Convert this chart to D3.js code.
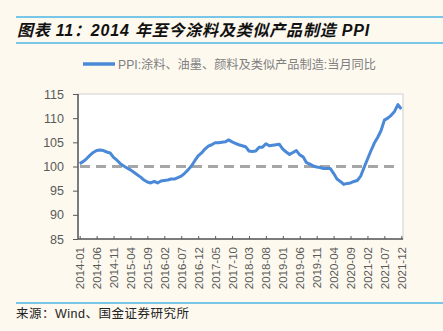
<!DOCTYPE html>
<html><head><meta charset="utf-8">
<script src="https://cdn.jsdelivr.net/npm/d3@7/dist/d3.min.js"></script>
<style>
html,body{margin:0;padding:0;background:#fdf9ef;}
svg{display:block;font-family:"Liberation Sans","Noto Sans CJK SC",sans-serif;}
</style></head><body>
<script>
const title = "图表 11：2014 年至今涂料及类似产品制造 PPI";
const seriesName = "PPI:涂料、油墨、颜料及类似产品制造:当月同比";
const source = "来源：Wind、国金证券研究所";
const startYear = 2014, startMonth = 1;
const values = [
100.6,101.0,101.6,102.3,102.9,103.3,103.4,103.3,103.0,102.8,101.9,101.3,
100.6,100.1,99.7,99.3,98.8,98.3,97.8,97.2,96.8,96.6,96.9,96.6,
97.0,97.1,97.2,97.4,97.4,97.7,98.0,98.6,99.3,100.1,101.2,102.2,
102.8,103.6,104.2,104.5,104.9,104.9,105.0,105.1,105.5,105.1,104.8,104.5,
104.3,104.1,103.2,103.1,103.2,104.0,104.0,104.7,104.3,104.4,104.5,104.6,
103.6,103.0,102.5,102.9,103.3,102.4,102.0,100.8,100.5,100.1,99.9,99.8,
99.6,99.6,99.6,98.6,97.4,96.9,96.3,96.5,96.6,96.9,97.1,98.0,
99.8,101.5,103.2,104.8,106.0,107.4,109.6,110.0,110.6,111.4,112.8,111.9];
const months = values.map((v,i)=>{const m=(startMonth-1+i)%12+1, y=startYear+Math.floor((startMonth-1+i)/12);return y+"-"+String(m).padStart(2,"0");});
const yTicks = [85,90,95,100,105,110,115];
const refValue = 100;

const W=443,H=331;
const svg=d3.select("body").append("svg").attr("width",W).attr("height",H);
const blue="#4db6e6";
// title
svg.append("line").attr("x1",16).attr("x2",W).attr("y1",17).attr("y2",17).attr("stroke",blue).attr("stroke-width",1.5);
svg.append("line").attr("x1",16).attr("x2",W).attr("y1",43).attr("y2",43).attr("stroke",blue).attr("stroke-width",1.5);
svg.append("text").attr("x",17).attr("y",36).attr("font-size",16).attr("font-weight","bold").attr("font-style","italic")
  .attr("letter-spacing",0.8).attr("fill","#111").text(title);

const m={l:78,r:403,t:94,b:239};
const x=d3.scalePoint().domain(months).range([m.l,m.r]).padding(0.5);
const y=d3.scaleLinear().domain([85,115]).range([m.b,m.t]);

svg.append("rect").attr("x",m.l).attr("y",m.t).attr("width",m.r-m.l).attr("height",m.b-m.t).attr("fill","#fff").attr("stroke","#d0d0d0").attr("stroke-width",1);

// legend
svg.append("line").attr("x1",83).attr("x2",115).attr("y1",64).attr("y2",64).attr("stroke","#4a89d8").attr("stroke-width",3.5);
svg.append("text").attr("x",118).attr("y",68.5).attr("font-size",12.2).attr("fill","#7f7f7f").text(seriesName);

// y axis
const ya=svg.append("g").attr("transform",`translate(${m.l},0)`).call(d3.axisLeft(y).tickValues(yTicks).tickSize(5).tickPadding(9));
ya.select(".domain").attr("stroke","#595959").attr("stroke-width",1.5).attr("d",`M0,${m.t}V${m.b}`);
ya.selectAll(".tick line").attr("stroke","#595959");
ya.selectAll(".tick text").attr("font-size",12.5).attr("fill","#595959").attr("font-family","Liberation Sans");

// x axis
const tickMonths=months.filter((d,i)=>i%5===0);
const xa=svg.append("g").attr("transform",`translate(0,${m.b})`).call(d3.axisBottom(x).tickValues(tickMonths).tickSize(-3).tickPadding(8));
xa.select(".domain").attr("stroke","#595959").attr("stroke-width",1.5).attr("d",`M${m.l},0H${m.r}`);
xa.selectAll(".tick line").attr("stroke","#595959");
xa.selectAll(".tick text").attr("font-size",11.5).attr("fill","#595959").attr("font-family","Liberation Sans")
  .attr("transform","rotate(-90)").attr("text-anchor","end").attr("dy","0.35em").attr("y",0).attr("x",-8);

// ref line
svg.append("line").attr("x1",m.l+2).attr("x2",m.r-3).attr("y1",y(refValue)).attr("y2",y(refValue)).attr("stroke","#a6a6a6").attr("stroke-width",3).attr("stroke-dasharray","10,6");

// series
svg.append("path").datum(values).attr("fill","none").attr("stroke","#4a89d8").attr("stroke-width",3).attr("stroke-linejoin","round")
  .attr("d",d3.line().x((d,i)=>x(months[i])).y(d=>y(d)));

// source
svg.append("line").attr("x1",16).attr("x2",W).attr("y1",303).attr("y2",303).attr("stroke",blue).attr("stroke-width",1.5);
svg.append("text").attr("x",16).attr("y",318).attr("font-size",12.5).attr("letter-spacing",0.5).attr("fill","#222").text(source);
</script></body></html>
